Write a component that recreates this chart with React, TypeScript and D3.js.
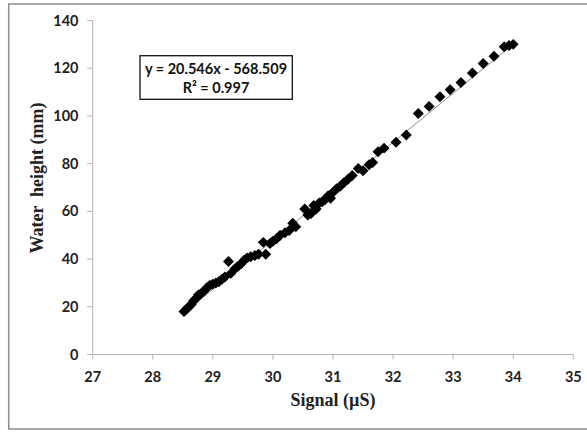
import React from "react";
import * as d3 from "d3";

const signal = [28.52, 28.56, 28.6, 28.64, 28.68, 28.72, 28.76, 28.8, 28.85, 28.9, 28.95, 29.0, 29.05, 29.1, 29.15, 29.2, 29.26, 29.3, 29.37, 29.42, 29.47, 29.52, 29.57, 29.63, 29.7, 29.76, 29.84, 29.88, 29.95, 30.0, 30.06, 30.12, 30.2, 30.27, 30.33, 30.38, 30.53, 30.58, 30.63, 30.68, 30.72, 30.77, 30.82, 30.87, 30.92, 30.96, 31.0, 31.06, 31.12, 31.18, 31.25, 31.32, 31.42, 31.5, 31.6, 31.66, 31.75, 31.85, 32.05, 32.22, 32.42, 32.6, 32.78, 32.95, 33.13, 33.32, 33.5, 33.68, 33.85, 33.93, 34.0];
const height = [18, 19, 20, 21, 22.5, 23.5, 25, 25.5, 26.5, 28, 29, 29.5, 30, 30.5, 31.5, 32.5, 39, 34, 36, 37, 38, 39.5, 40.5, 41, 41.5, 42, 47, 42, 46.5, 47.5, 48.5, 50, 51, 52, 55, 53.5, 61, 58.5, 59, 62.5, 61, 63.5, 64, 65, 66.5, 65.5, 68, 69.5, 70.5, 72, 73.5, 75, 78, 77, 79.5, 80.5, 85, 86.5, 89, 92, 101, 104, 108, 111, 114, 118, 122, 125, 129, 129.5, 130];

const xTicks = [27, 28, 29, 30, 31, 32, 33, 34, 35];
const yTicks = [0, 20, 40, 60, 80, 100, 120, 140];
const slope = 20.546;
const intercept = -568.509;
const eqLine1 = "y = 20.546x - 568.509";
const eqLine2 = "R² = 0.997";

export default function App() {
  const W = 587, H = 433;
  const left = 92.7, right = 573.3, top = 20.5, bottom = 354.5;
  const x = d3.scaleLinear().domain([27, 35]).range([left, right]);
  const y = d3.scaleLinear().domain([0, 140]).range([bottom, top]);
  const xMin = d3.min(signal) as number;
  const xMax = d3.max(signal) as number;
  const marker = d3.symbol(d3.symbolSquare, 60)() as string;
  const tickFont = "Lato, 'Open Sans', sans-serif";
  const axisColor = "#b3b3b3";
  return (
    <svg width={W} height={H} style={{ position: "absolute", left: 0, top: 0, background: "#fff" }}>
      <rect x={8.7} y={4} width={590} height={425} fill="#fff" stroke="#8c8c8c" strokeWidth={1.5} />
      <line x1={left} x2={right} y1={bottom} y2={bottom} stroke={axisColor} strokeWidth={1} />
      <line x1={left} x2={left} y1={top} y2={bottom} stroke={axisColor} strokeWidth={1} />
      {xTicks.map((t) => (
        <g key={"x" + t}>
          <line x1={x(t)} x2={x(t)} y1={bottom} y2={bottom + 5} stroke={axisColor} />
          <text x={x(t)} y={381.5} textAnchor="middle" fontFamily={tickFont} fontWeight="bold" fontSize={14.5} fill="#222">{t}</text>
        </g>
      ))}
      {yTicks.map((t) => (
        <g key={"y" + t}>
          <line x1={left - 5.5} x2={left} y1={y(t)} y2={y(t)} stroke={axisColor} />
          <text x={78.5} y={y(t) + 5} textAnchor="end" fontFamily={tickFont} fontWeight="bold" fontSize={14.5} fill="#222">{t}</text>
        </g>
      ))}
      <line x1={x(xMin)} y1={y(slope * xMin + intercept)} x2={x(xMax)} y2={y(slope * xMax + intercept)} stroke="#8c8c8c" strokeWidth={1} />
      {signal.map((s, i) => (
        <path key={i} d={marker} transform={`translate(${x(s)},${y(height[i])}) rotate(45)`} fill="#000" />
      ))}
      <rect x={140} y={55.7} width={152.3} height={43.6} fill="#fff" stroke="#111" strokeWidth={1.3} />
      <text x={216} y={74} textAnchor="middle" fontFamily={tickFont} fontWeight="bold" fontSize={14.5} fill="#111">{eqLine1}</text>
      <text x={216} y={93} textAnchor="middle" fontFamily={tickFont} fontWeight="bold" fontSize={14.5} fill="#111">{eqLine2}</text>
      <text x={333} y={406} textAnchor="middle" fontFamily="'Liberation Serif', 'Times New Roman', serif" fontWeight="bold" fontSize={18} fill="#222">Signal (µS)</text>
      <text transform="translate(43,178) rotate(-90)" textAnchor="middle" fontFamily="'Liberation Serif', 'Times New Roman', serif" fontWeight="bold" fontSize={18} fill="#222" style={{ whiteSpace: "pre" }}>{"Water  height (mm)"}</text>
    </svg>
  );
}
